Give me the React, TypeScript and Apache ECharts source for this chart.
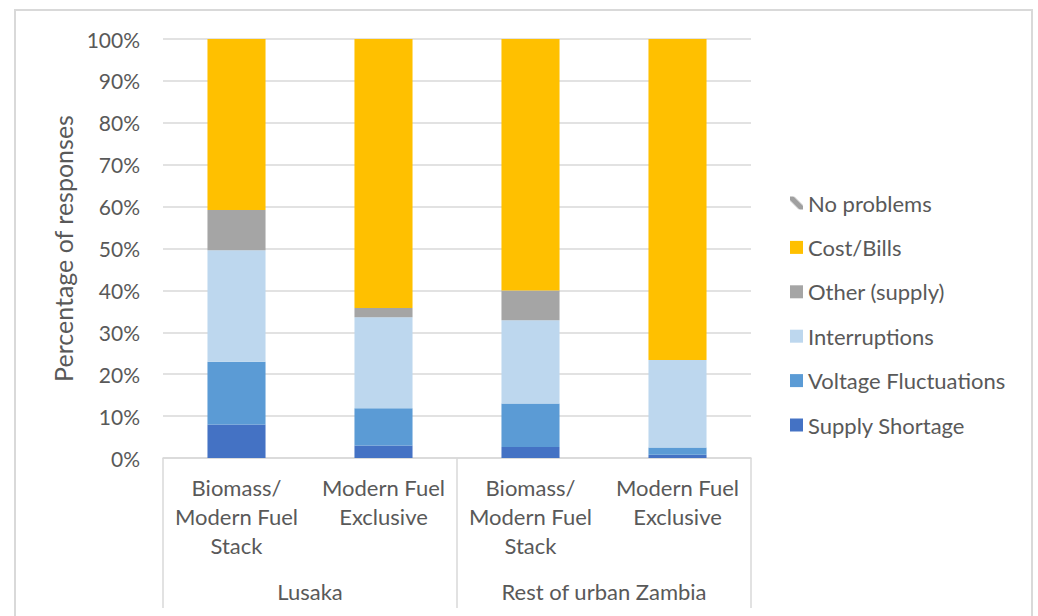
import React, { useEffect, useRef } from "react";
import * as echarts from "echarts";

const categories = [
  "Biomass/\nModern Fuel\nStack",
  "Modern Fuel\nExclusive",
  "Biomass/\nModern Fuel\nStack",
  "Modern Fuel\nExclusive",
];
const groups = ["Lusaka", "Rest of urban Zambia"];

const supplyShortage = [8.0, 3.0, 2.6, 0.8];
const voltageFluctuations = [15.0, 8.9, 10.4, 1.7];
const interruptions = [26.6, 21.7, 19.9, 20.9];
const otherSupply = [9.6, 2.2, 7.1, 0];
const costBills = [40.8, 64.2, 60.0, 76.6];
const noProblems = [0, 0, 0, 0];

const yTicks = [0, 10, 20, 30, 40, 50, 60, 70, 80, 90, 100];

const FONT = "Lato, 'Open Sans', sans-serif";
const TXT = "#595959";

export default function App() {
  const ref = useRef<HTMLDivElement>(null);
  useEffect(() => {
    if (!ref.current) return;
    const chart = echarts.init(ref.current, undefined, { renderer: "svg" });
    const stripe = new echarts.graphic.LinearGradient(0, 1, 1, 0, [
      { offset: 0, color: "#ffffff" },
      { offset: 0.3, color: "#ffffff" },
      { offset: 0.4, color: "#a0a0a0" },
      { offset: 0.6, color: "#a0a0a0" },
      { offset: 0.7, color: "#ffffff" },
      { offset: 1, color: "#ffffff" },
    ]);
    const mk = (name: string, data: number[], color: any) => ({
      name,
      type: "bar",
      stack: "total",
      data,
      barWidth: "39.5%",
      itemStyle: { color },
      xAxisIndex: 0,
      yAxisIndex: 0,
    });
    chart.setOption({
      animation: false,
      textStyle: { fontFamily: FONT },
      graphic: [
        {
          type: "rect",
          shape: { x: 15, y: 10, width: 1017, height: 660 },
          style: { fill: "none", stroke: "#d9d9d9", lineWidth: 2 },
          silent: true,
        },
      ],
      grid: { left: 163, right: 287, top: 39, bottom: 158 },
      legend: {
        orient: "vertical",
        left: 790,
        top: 192,
        padding: 0,
        icon: "rect",
        itemWidth: 13,
        itemHeight: 13,
        itemGap: 22.4,
        textStyle: { fontFamily: FONT, fontSize: 22, color: TXT, lineHeight: 22 },
        data: [
          "No problems",
          "Cost/Bills",
          "Other (supply)",
          "Interruptions",
          "Voltage Fluctuations",
          "Supply Shortage",
        ],
      },
      xAxis: [
        {
          type: "category",
          data: categories,
          axisLine: { show: true, lineStyle: { color: "#d9d9d9", width: 1.5 } },
          axisTick: { show: false },
          axisLabel: {
            interval: 0,
            margin: 15,
            fontFamily: FONT,
            fontSize: 22,
            color: TXT,
            lineHeight: 29,
          },
        },
        {
          type: "category",
          data: groups,
          position: "bottom",
          axisLine: { show: false },
          axisTick: { show: true, length: 150, lineStyle: { color: "#d9d9d9", width: 1.5 } },
          axisLabel: {
            interval: 0,
            margin: 122,
            fontFamily: FONT,
            fontSize: 22,
            color: TXT,
            lineHeight: 22,
          },
        },
      ],
      yAxis: {
        type: "value",
        min: yTicks[0],
        max: yTicks[yTicks.length - 1],
        interval: 10,
        name: "Percentage of responses",
        nameLocation: "middle",
        nameGap: 88,
        nameTextStyle: { fontFamily: FONT, fontSize: 25, color: TXT },
        axisLine: { show: false },
        axisTick: { show: false },
        axisLabel: {
          formatter: "{value}%",
          margin: 23,
          fontFamily: FONT,
          fontSize: 21,
          color: TXT,
        },
        splitLine: { lineStyle: { color: "#d9d9d9", width: 1.5 } },
      },
      series: [
        mk("Supply Shortage", supplyShortage, "#4472C4"),
        mk("Voltage Fluctuations", voltageFluctuations, "#5B9BD5"),
        mk("Interruptions", interruptions, "#BDD7EE"),
        mk("Other (supply)", otherSupply, "#A5A5A5"),
        mk("Cost/Bills", costBills, "#FFC000"),
        mk("No problems", noProblems, stripe),
      ],
    });
    return () => chart.dispose();
  }, []);
  return (
    <div
      ref={ref}
      style={{ position: "absolute", left: 0, top: 0, width: 1038, height: 616, background: "#fff" }}
    />
  );
}
